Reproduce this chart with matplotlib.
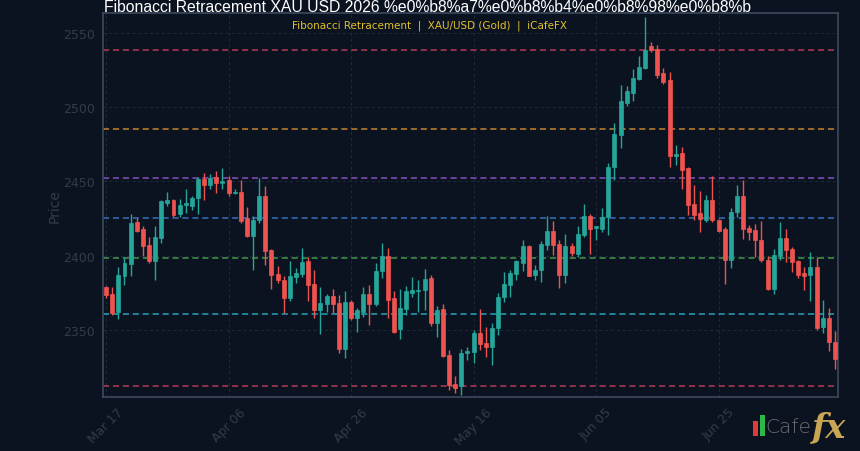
import numpy as np
import pandas as pd
import matplotlib
matplotlib.use("Agg")
import matplotlib.pyplot as plt
from matplotlib.patches import Rectangle

# daily candles, XAU/USD
start_date = "2026-03-17"
opens = [2378.7, 2374.2, 2361.8, 2386.4, 2394.5, 2422.5, 2418.2, 2407.4, 2396.1, 2411.9,
         2435.5, 2437.8, 2427.7, 2434.4, 2433.3, 2438.5, 2451.8, 2447.5, 2453.1, 2449.0,
         2450.9, 2442.1, 2443.0, 2425.4, 2413.0, 2423.8, 2440.5, 2403.5, 2387.8, 2383.7,
         2371.3, 2385.5, 2387.8, 2396.1, 2381.0, 2363.4, 2367.4, 2372.9, 2367.9, 2336.8,
         2368.4, 2357.8, 2362.3, 2374.2, 2367.5, 2389.3, 2399.9, 2371.3, 2350.5, 2363.9,
         2375.1, 2375.8, 2376.5, 2384.8, 2354.4, 2363.9, 2333.0, 2313.2, 2312.0, 2334.5,
         2335.2, 2348.1, 2340.9, 2338.6, 2351.0, 2372.0, 2380.3, 2387.8, 2395.0, 2406.2,
         2387.1, 2390.0, 2407.4, 2416.4, 2408.0, 2387.1, 2406.7, 2401.3, 2414.1, 2427.0,
         2418.6, 2418.2, 2425.7, 2459.5, 2481.3, 2502.7, 2509.5, 2519.0, 2526.4, 2541.0,
         2539.3, 2523.0, 2518.1, 2467.0, 2468.9, 2458.8, 2435.1, 2428.8, 2424.3, 2437.8,
         2424.3, 2417.6, 2396.8, 2429.1, 2440.1, 2418.9, 2417.1, 2410.8, 2397.3, 2377.7,
         2399.5, 2412.1, 2404.7, 2396.4, 2388.3, 2386.7, 2392.3, 2351.7, 2358.1, 2341.6]
highs = [2379.6, 2378.7, 2392.3, 2399.0, 2427.7, 2425.4, 2419.8, 2412.5, 2419.8, 2437.8,
         2442.8, 2438.2, 2438.2, 2445.0, 2440.0, 2453.1, 2455.4, 2454.7, 2457.0, 2459.2,
         2453.6, 2445.0, 2450.9, 2432.8, 2426.5, 2452.4, 2446.8, 2404.4, 2392.7, 2386.0,
         2396.1, 2391.6, 2405.1, 2399.0, 2390.5, 2378.7, 2374.2, 2377.4, 2373.6, 2375.8,
         2370.2, 2364.5, 2378.7, 2380.3, 2395.0, 2408.5, 2405.1, 2375.8, 2377.4, 2379.2,
         2385.5, 2383.7, 2391.1, 2387.1, 2365.7, 2367.5, 2336.4, 2318.8, 2336.8, 2338.6,
         2349.9, 2363.9, 2352.2, 2354.4, 2374.7, 2388.7, 2390.5, 2397.2, 2410.7, 2407.4,
         2393.8, 2409.6, 2427.0, 2423.1, 2410.7, 2414.8, 2408.5, 2419.8, 2435.1, 2427.7,
         2419.9, 2431.8, 2462.2, 2489.2, 2515.1, 2514.5, 2525.7, 2534.8, 2560.9, 2543.8,
         2542.2, 2526.4, 2523.5, 2474.6, 2473.5, 2459.9, 2447.5, 2443.7, 2440.8, 2453.6,
         2425.0, 2419.4, 2431.8, 2447.5, 2450.9, 2420.5, 2421.6, 2423.4, 2399.5, 2404.7,
         2422.7, 2417.6, 2405.8, 2396.8, 2392.3, 2402.5, 2399.1, 2369.8, 2364.8, 2349.5]
lows = [2371.3, 2360.0, 2357.1, 2380.3, 2386.4, 2415.7, 2399.9, 2395.0, 2383.7, 2408.5,
        2433.7, 2425.8, 2425.8, 2428.8, 2431.0, 2427.7, 2437.3, 2445.0, 2442.3, 2444.6,
        2440.5, 2441.2, 2422.0, 2412.5, 2390.5, 2422.0, 2393.8, 2377.4, 2381.4, 2361.6,
        2369.1, 2381.4, 2385.5, 2369.1, 2357.8, 2347.2, 2362.3, 2361.2, 2334.1, 2330.7,
        2356.7, 2348.8, 2358.9, 2353.3, 2365.7, 2384.8, 2357.8, 2347.6, 2343.6, 2360.0,
        2372.4, 2362.3, 2363.4, 2352.6, 2345.4, 2331.4, 2309.3, 2307.5, 2306.0, 2329.6,
        2327.4, 2336.4, 2331.9, 2326.2, 2346.5, 2368.4, 2372.4, 2383.7, 2389.3, 2386.0,
        2383.7, 2381.9, 2404.0, 2400.6, 2378.1, 2381.4, 2399.9, 2399.0, 2412.5, 2401.3,
        2410.3, 2416.0, 2413.7, 2450.9, 2472.3, 2500.5, 2503.9, 2518.5, 2525.7, 2537.0,
        2519.7, 2515.8, 2459.5, 2461.0, 2444.6, 2427.3, 2423.9, 2416.0, 2422.7, 2422.7,
        2416.0, 2381.0, 2391.9, 2426.1, 2411.5, 2410.8, 2399.1, 2395.7, 2376.5, 2374.3,
        2396.8, 2395.7, 2388.9, 2385.1, 2377.0, 2369.3, 2350.0, 2347.7, 2336.0, 2323.6]
closes = [2373.6, 2361.6, 2387.1, 2395.0, 2422.0, 2416.8, 2406.2, 2396.1, 2412.5, 2437.1,
          2437.8, 2427.2, 2434.0, 2435.5, 2438.9, 2451.8, 2447.3, 2452.4, 2448.6, 2450.6,
          2441.9, 2443.0, 2423.1, 2413.0, 2424.3, 2440.5, 2402.9, 2387.1, 2383.3, 2371.3,
          2386.4, 2388.2, 2395.4, 2380.3, 2363.4, 2367.9, 2372.9, 2367.5, 2336.8, 2368.4,
          2357.8, 2363.4, 2374.2, 2367.5, 2389.8, 2399.9, 2370.2, 2348.8, 2364.5, 2375.8,
          2376.5, 2376.9, 2384.2, 2354.4, 2363.4, 2332.3, 2312.7, 2310.5, 2334.1, 2335.9,
          2348.1, 2340.2, 2338.6, 2351.5, 2372.4, 2381.0, 2388.2, 2396.1, 2406.2, 2386.4,
          2390.5, 2407.8, 2416.4, 2407.4, 2387.1, 2406.7, 2401.7, 2414.8, 2427.0, 2418.0,
          2419.7, 2425.7, 2459.9, 2482.0, 2503.9, 2510.6, 2519.7, 2527.1, 2538.8, 2538.4,
          2521.9, 2516.7, 2467.1, 2468.5, 2457.7, 2434.0, 2427.3, 2425.0, 2437.8, 2423.9,
          2416.7, 2396.8, 2429.5, 2440.1, 2418.2, 2416.0, 2410.3, 2396.8, 2377.7, 2400.2,
          2412.1, 2404.0, 2395.7, 2386.7, 2386.0, 2392.3, 2351.3, 2358.1, 2341.6, 2330.3]

fib_high = 2538.6
fib_low = 2312.0
fib_ratios = [0, 0.236, 0.382, 0.5, 0.618, 0.786, 1.0]
fib_colors = ['#d6405e', '#e0962e', '#9a5ad8', '#3f7fd8', '#4caf50', '#2bbcd4', '#d6405e']

bg = '#0c1320'
dim = '#343c48'
up_color = '#26a69a'
down_color = '#ef5350'

df = pd.DataFrame({'open': opens, 'high': highs, 'low': lows, 'close': closes})
df['date'] = pd.date_range(start_date, periods=len(df), freq='D')
x = np.arange(len(df))

fig = plt.figure(figsize=(8.6, 4.52), dpi=100, facecolor=bg)
ax = fig.add_axes([0.1198, 0.1195, 0.8546, 0.8495])
ax.set_facecolor(bg)

for i, row in df.iterrows():
    col = up_color if row['close'] >= row['open'] else down_color
    ax.vlines(x[i], row['low'], row['high'], color=col, linewidth=1, zorder=3)
    lo = min(row['open'], row['close'])
    h = max(abs(row['close'] - row['open']), 0.6)
    ax.add_patch(Rectangle((x[i] - 0.32, lo), 0.64, h, facecolor=col, edgecolor=col,
                           linewidth=0.5, zorder=4))

for r, c in zip(fib_ratios, fib_colors):
    level = fib_high - r * (fib_high - fib_low)
    ax.axhline(level, color=c, linestyle=(0, (4, 2.5)), linewidth=1.1, alpha=0.85, zorder=2)

ax.set_xlim(-0.5, len(df) - 0.5)
ax.set_ylim(2304.7, 2563.5)
ax.set_yticks([2350, 2400, 2450, 2500, 2550])
ticks = x[::20]
ax.set_xticks(ticks)
ax.set_xticklabels([d.strftime('%b %d') for d in df['date'][::20]], rotation=45)

ax.tick_params(colors=dim, labelsize=9, length=0, pad=6)
ax.grid(True, color='#233044', linestyle=(0, (3, 3)), linewidth=0.7, alpha=0.8, zorder=0)
for s in ax.spines.values():
    s.set_color('#3c4a5e')
    s.set_linewidth(1.2)
ax.set_ylabel('Price', color=dim, fontsize=10, labelpad=1)

fig.text(0.1215, 0.9735, 'Fibonacci Retracement XAU USD 2026 %e0%b8%a7%e0%b8%b4%e0%b8%98%e0%b8%b',
         color='white', fontsize=11.3, ha='left', va='baseline', family='Liberation Sans')
fig.text(0.5, 0.955, 'Fibonacci Retracement  |  XAU/USD (Gold)  |  iCafeFX',
         ha='center', va='top', color='#e0c030', fontsize=7.5)

# logo
fig.patches.append(Rectangle((0.8755, 0.034), 0.006, 0.033, transform=fig.transFigure,
                             facecolor='#e03a3a', edgecolor='none'))
fig.patches.append(Rectangle((0.884, 0.034), 0.006, 0.045, transform=fig.transFigure,
                             facecolor='#2eb84a', edgecolor='none'))
fig.text(0.890, 0.033, 'Cafe', color='#6a6e76', fontsize=14.5, ha='left', va='bottom',
         family='DejaVu Sans', fontweight='light')
fig.text(0.944, 0.018, 'fx', color='#c9a653', fontsize=24, ha='left', va='bottom',
         family='DejaVu Serif', style='italic', fontweight='bold')

fig.savefig('out.png', dpi=100, facecolor=bg)
